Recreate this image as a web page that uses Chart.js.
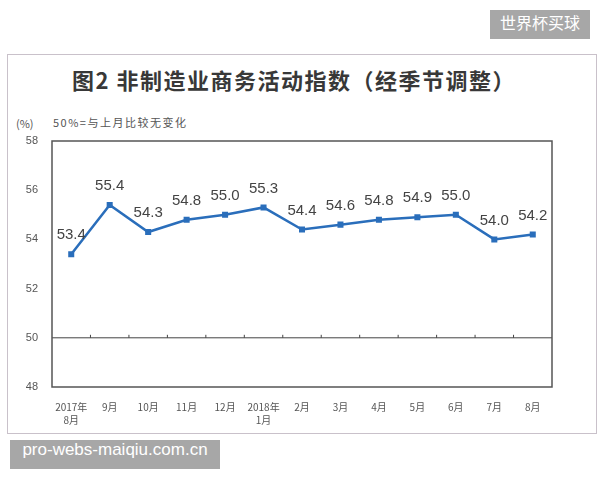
<!DOCTYPE html>
<html>
<head>
<meta charset="utf-8">
<script src="https://cdn.jsdelivr.net/npm/chart.js@4"></script>
<style>
body { margin: 0; background: #fff; }
#wrap { position: relative; width: 600px; height: 480px; overflow: hidden; }
#frame { position: absolute; left: 7px; top: 54px; width: 588px; height: 378px; border: 1px solid #c9c1ca; }
#title { position: absolute; left: 0; width: 588px; top: 63px; text-align: center; font: bold 22px "Noto Sans CJK SC"; color: #383838; letter-spacing: 1.5px; }
#unit { position: absolute; left: 16px; top: 115px; font: 11px "Noto Sans CJK SC"; color: #555; }
#note { position: absolute; left: 53px; top: 114px; font: 11px "Noto Sans CJK SC"; color: #555; letter-spacing: 1.5px; }
.wm { position: absolute; background: #a7a7a7; color: #fff; }
#wm1 { left: 490px; top: 10px; width: 100px; height: 29px; line-height: 29px; text-align: center; font: 16px "Noto Sans CJK SC"; }
#wm2 { left: 10px; top: 440px; width: 210px; height: 29px; line-height: 29px; text-align: center; font: 17px "Liberation Sans"; }
canvas { position: absolute; left: 0; top: 0; }
</style>
</head>
<body>
<div id="wrap">
  <div id="frame"></div>
  <div id="title">图2&nbsp;非制造业商务活动指数（经季节调整）</div>
  <div id="unit">(%)</div>
  <div id="note">50%=与上月比较无变化</div>
  <canvas id="chart" width="600" height="480"></canvas>
  <div class="wm" id="wm1">世界杯买球</div>
  <div class="wm" id="wm2">pro-webs-maiqiu.com.cn</div>
</div>
<script>
// 月份标签
const months = [['2017年', '8月'], '9月', '10月', '11月', '12月', ['2018年', '1月'], '2月', '3月', '4月', '5月', '6月', '7月', '8月'];
// 非制造业商务活动指数
const indexValues = [53.4, 55.4, 54.3, 54.8, 55.0, 55.3, 54.4, 54.6, 54.8, 54.9, 55.0, 54.0, 54.2];
const yTicks = [48, 50, 52, 54, 56, 58];
const baseLine = 50;

// 边框、50线和数值标签
const decor = {
    id: 'decor',
    beforeDatasetsDraw(chart) {
        const c = chart.ctx, a = chart.chartArea;
        const x = chart.scales.x, y = chart.scales.y;
        const y50 = y.getPixelForValue(baseLine);
        c.save();
        c.strokeStyle = '#444';
        c.lineWidth = 1;
        c.beginPath();
        c.moveTo(a.left, y50);
        c.lineTo(a.right, y50);
        for (let i = 1; i < months.length; i++) {
            let px = (x.getPixelForValue(i - 1) + x.getPixelForValue(i)) / 2;
            c.moveTo(px, y50);
            c.lineTo(px, y50 - 3);
        }
        c.stroke();
        c.strokeStyle = '#555';
        c.lineWidth = 1.5;
        c.strokeRect(a.left, a.top, a.right - a.left, a.bottom - a.top);
        c.restore();
    },
    afterDatasetsDraw(chart) {
        const c = chart.ctx;
        const meta = chart.getDatasetMeta(0);
        c.save();
        c.font = '15px "Liberation Sans"';
        c.fillStyle = '#444';
        c.textAlign = 'center';
        c.textBaseline = 'middle';
        meta.data.forEach(function (p, i) {
            c.fillText(indexValues[i].toFixed(1), p.x, p.y - 19);
        });
        c.restore();
    }
};

const ctx = document.getElementById('chart').getContext('2d');
const myChart = new Chart(ctx, {
    type: 'line',
    data: {
        labels: months,
        datasets: [{
            data: indexValues,
            borderColor: '#2a6ebb',
            backgroundColor: '#2a6ebb',
            borderWidth: 2.5,
            pointStyle: 'rect',
            pointRadius: 2.5,
            tension: 0
        }]
    },
    options: {
        responsive: false,
        animation: false,
        layout: { padding: { left: 22, top: 141, right: 48, bottom: 53 } },
        plugins: { legend: { display: false }, tooltip: { enabled: false } },
        scales: {
            x: {
                offset: true,
                grid: { display: false, drawTicks: false },
                border: { display: false },
                ticks: { padding: 13, maxRotation: 0, autoSkip: false, color: '#555', font: { family: 'Noto Sans CJK SC', size: 10, lineHeight: 1.35 } },
                afterFit(scale) { scale.height = 40; }
            },
            y: {
                min: 48,
                max: 58,
                afterBuildTicks(scale) { scale.ticks = yTicks.map(v => ({ value: v })); },
                grid: { display: false, drawTicks: false },
                border: { display: false },
                ticks: { padding: 14, color: '#555', font: { family: 'Liberation Sans', size: 11 } },
                afterFit(scale) { scale.width = 30; }
            }
        }
    },
    plugins: [decor]
});
</script>
</body>
</html>
